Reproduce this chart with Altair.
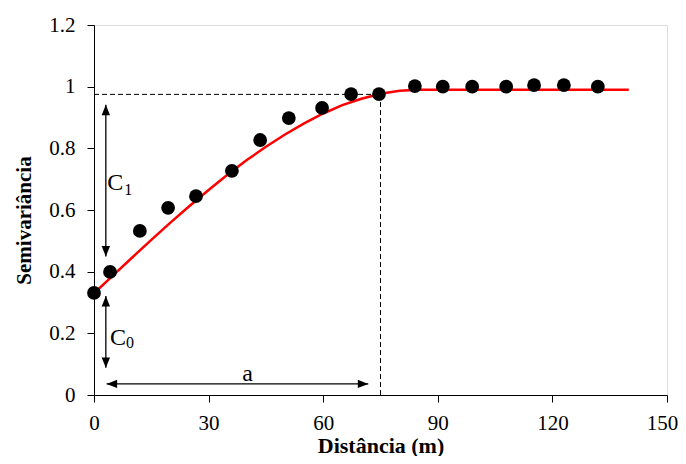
import altair as alt
import pandas as pd

# Observed semivariance points
dist = [0, 4.2, 12.0, 19.4, 26.7, 36.1, 43.5, 51.0, 59.7, 67.3, 74.6, 84.0, 91.3, 99.0, 107.9, 115.2, 123.0, 131.9]
semiv = [0.331, 0.399, 0.532, 0.607, 0.645, 0.727, 0.827, 0.898, 0.931, 0.976, 0.976, 1.002, 1.0, 1.0, 1.0, 1.005, 1.005, 1.0]

# Fitted model curve
curve_x = [0, 5, 10, 15, 20, 25, 30, 35, 40, 45, 50, 55, 60, 65, 70, 75, 80, 85, 90, 100, 110, 120, 130, 140]
curve_y = [0.330, 0.388, 0.446, 0.503, 0.559, 0.613, 0.665, 0.715, 0.762, 0.805, 0.845, 0.881, 0.913, 0.940,
           0.961, 0.977, 0.987, 0.990, 0.990, 0.990, 0.990, 0.990, 0.990, 0.990]

# Reference (dashed) lines: sill level and range
sill_level = 0.975
range_a = 75

# Arrows: vertical C1, C0 and horizontal a
vert_arrow_x = [3.1, 3.1]
vert_arrow_y1 = [0.449, 0.321]
vert_arrow_y2 = [0.941, 0.088]
horiz_arrow_y = 0.036
horiz_arrow_x1 = 3.3
horiz_arrow_x2 = 71.8

# Labels
main_lbl_text = ["C", "C", "a"]
main_lbl_x = [3.5, 4.2, 40.2]
main_lbl_y = [0.664, 0.162, 0.045]
main_lbl_align = ["left", "left", "center"]
sub_lbl_text = ["1", "0"]
sub_lbl_x = [7.9, 8.4]
sub_lbl_y = [0.649, 0.151]

x_ticks = [0, 30, 60, 90, 120, 150]
y_ticks = [0, 0.2, 0.4, 0.6, 0.8, 1, 1.2]

FONT = "Liberation Serif"

xs = alt.Scale(domain=[0, 150], nice=False)
ys = alt.Scale(domain=[0, 1.2], nice=False)

x_axis = alt.Axis(values=x_ticks, title="Distância (m)", grid=False, domainColor="black",
                  tickColor="black", tickSize=7, labelPadding=10, labelFont=FONT, labelFontSize=21,
                  labelColor="black", titleFont=FONT, titleFontSize=22, titleFontWeight="bold",
                  titleColor="black", titleBaseline="alphabetic", titleY=57, labelFlush=False,
                  labelOffset={"condition": {"test": "datum.value == 150", "value": -5}, "value": 0})
y_axis = alt.Axis(values=y_ticks, format="~g", title="Semivariância", grid=False, domainColor="black",
                  tickColor="black", tickSize=7, labelPadding=12, labelFont=FONT, labelFontSize=21,
                  labelColor="black", titleFont=FONT, titleFontSize=21, titleFontWeight="bold",
                  titleColor="black", titleX=-60, titleY=195, labelFlush=False)

pts = pd.DataFrame({"x": dist, "y": semiv})
crv = pd.DataFrame({"x": curve_x, "y": curve_y})

base_axes = alt.Chart(pts).mark_point(opacity=0).encode(
    x=alt.X("x:Q", scale=xs, axis=x_axis),
    y=alt.Y("y:Q", scale=ys, axis=y_axis),
)

hdash = alt.Chart(pd.DataFrame({"x": [0], "x2": [range_a], "y": [sill_level]})).mark_rule(
    color="black", strokeWidth=1, strokeDash=[5, 3]).encode(
    x=alt.X("x:Q", scale=xs), x2="x2:Q", y=alt.Y("y:Q", scale=ys))
vdash = alt.Chart(pd.DataFrame({"x": [range_a], "y": [0], "y2": [sill_level]})).mark_rule(
    color="black", strokeWidth=1, strokeDash=[5, 3]).encode(
    x=alt.X("x:Q", scale=xs), y=alt.Y("y:Q", scale=ys), y2="y2:Q")

line = alt.Chart(crv).mark_line(color="#ff0000", strokeWidth=2.5).encode(
    x=alt.X("x:Q", scale=xs), y=alt.Y("y:Q", scale=ys))

points = alt.Chart(pts).mark_circle(color="black", size=190, opacity=1).encode(
    x=alt.X("x:Q", scale=xs), y=alt.Y("y:Q", scale=ys))

va = pd.DataFrame({"x": vert_arrow_x, "y": vert_arrow_y1, "y2": vert_arrow_y2})
vrules = alt.Chart(va).mark_rule(color="black", strokeWidth=1.3).encode(
    x=alt.X("x:Q", scale=xs), y=alt.Y("y:Q", scale=ys), y2="y2:Q")
ha = pd.DataFrame({"x": [horiz_arrow_x1], "x2": [horiz_arrow_x2], "y": [horiz_arrow_y]})
hrule = alt.Chart(ha).mark_rule(color="black", strokeWidth=1.3).encode(
    x=alt.X("x:Q", scale=xs), x2="x2:Q", y=alt.Y("y:Q", scale=ys))

UP = "M0,0L0.8,2L-0.8,2Z"
DOWN = "M0,0L0.8,-2L-0.8,-2Z"
LEFT = "M0,0L2,0.8L2,-0.8Z"
RIGHT = "M0,0L-2,0.8L-2,-0.8Z"

heads_df = pd.DataFrame({
    "x": [vert_arrow_x[0], vert_arrow_x[0], vert_arrow_x[1], vert_arrow_x[1], horiz_arrow_x1, horiz_arrow_x2],
    "y": [vert_arrow_y2[0], vert_arrow_y1[0], vert_arrow_y1[1], vert_arrow_y2[1], horiz_arrow_y, horiz_arrow_y],
    "dir": ["up", "down", "up", "down", "left", "right"],
})
heads = []
for d, shp in [("up", UP), ("down", DOWN), ("left", LEFT), ("right", RIGHT)]:
    heads.append(alt.Chart(heads_df[heads_df["dir"] == d]).mark_point(
        shape=shp, filled=True, color="black", size=110, opacity=1, strokeWidth=0).encode(
        x=alt.X("x:Q", scale=xs), y=alt.Y("y:Q", scale=ys)))

lbl_layers = []
for t, x, y, a in zip(main_lbl_text, main_lbl_x, main_lbl_y, main_lbl_align):
    lbl_layers.append(alt.Chart(pd.DataFrame({"x": [x], "y": [y], "t": [t]})).mark_text(
        font=FONT, fontSize=24, color="black", align=a, baseline="alphabetic").encode(
        x=alt.X("x:Q", scale=xs), y=alt.Y("y:Q", scale=ys), text="t:N"))
for t, x, y in zip(sub_lbl_text, sub_lbl_x, sub_lbl_y):
    lbl_layers.append(alt.Chart(pd.DataFrame({"x": [x], "y": [y], "t": [t]})).mark_text(
        font=FONT, fontSize=16, color="black", align="left", baseline="alphabetic").encode(
        x=alt.X("x:Q", scale=xs), y=alt.Y("y:Q", scale=ys), text="t:N"))

chart = alt.layer(base_axes, hdash, vdash, line, points, vrules, hrule, *heads, *lbl_layers).properties(
    width=573, height=370,
    autosize=alt.AutoSizeParams(type="none"),
    padding={"left": 86, "top": 17, "right": 11, "bottom": 61},
).configure_view(stroke=None).configure(background="white")

chart.save("out.html", embed_options={"renderer": "svg", "actions": False})
